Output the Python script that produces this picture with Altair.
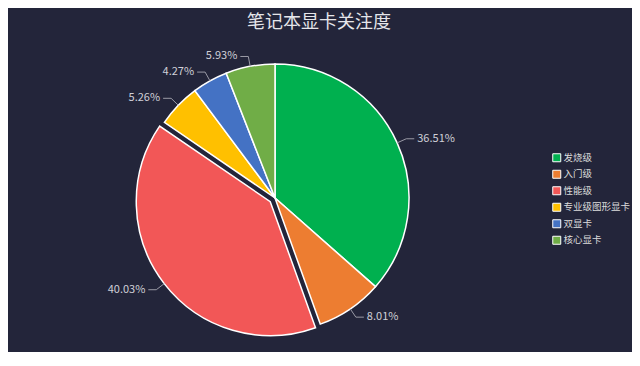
import altair as alt
import pandas as pd

# ---- data ----
categories = ["发烧级", "入门级", "性能级", "专业级图形显卡", "双显卡", "核心显卡"]
shares = [36.51, 8.01, 40.03, 5.26, 4.27, 5.93]
labels = ["36.51%", "8.01%", "40.03%", "5.26%", "4.27%", "5.93%"]
colors = ["#00b04f", "#ed7d31", "#f25757", "#ffc000", "#4472c4", "#70ad47"]
exploded = ["性能级"]
title_text = "笔记本显卡关注度"

# ---- layout constants ----
W, H = 534, 308
R = 134
EXPLODE = 6
L1, L2, GAP = 10, 8, 3
BG = "#23253a"
FONT = "Noto Sans CJK SC"

df = pd.DataFrame({
    "cat": categories,
    "share": shares,
    "label": labels,
    "idx": list(range(len(categories))),
    "off": [EXPLODE if c in exploded else 0 for c in categories],
})

base = (
    alt.Chart(df)
    .transform_joinaggregate(total="sum(share)")
    .transform_window(cum="sum(share)", sort=[{"field": "idx"}], frame=[None, 0])
    .transform_calculate(
        a0="2*PI*(datum.cum - datum.share)/datum.total",
        a1="2*PI*datum.cum/datum.total",
    )
    .transform_calculate(mid="(datum.a0 + datum.a1)/2")
    .transform_calculate(
        cx=f"{W/2} + datum.off*sin(datum.mid)",
        cy=f"{H/2} - datum.off*cos(datum.mid)",
        side="sin(datum.mid) >= 0 ? 1 : -1",
    )
    .transform_calculate(
        px0=f"datum.cx + {R}*sin(datum.mid)",
        py0=f"datum.cy - {R}*cos(datum.mid)",
        px1=f"datum.cx + {R + L1}*sin(datum.mid)",
        py1=f"datum.cy - {R + L1}*cos(datum.mid)",
    )
    .transform_calculate(
        px2=f"datum.px1 + datum.side*{L2}",
        tx=f"datum.px1 + datum.side*{L2 + GAP}",
    )
)

X = lambda f: alt.X(f, scale=None, axis=None)
Y = lambda f: alt.Y(f, scale=None, axis=None)

arcs = base.mark_arc(radius=R, stroke="white", strokeWidth=1.5).encode(
    x=X("cx:Q"),
    y=Y("cy:Q"),
    theta=alt.Theta("a0:Q", scale=None),
    theta2=alt.Theta2("a1:Q"),
    color=alt.Color(
        "cat:N",
        scale=alt.Scale(domain=categories, range=colors),
        legend=alt.Legend(
            title=None,
            orient="none",
            legendX=544,
            legendY=109,
            symbolType="square",
            symbolSize=64,
            symbolStrokeColor="white",
            symbolStrokeWidth=1,
            symbolOpacity=1,
            labelColor="#dcdcdc",
            labelFontSize=9.5,
            labelFont=FONT,
            labelOffset=2,
            rowPadding=3.5,
        ),
    ),
    tooltip=["cat:N", "label:N"],
)

seg1 = base.mark_rule(color="#9a9aa6", strokeWidth=1).encode(
    x=X("px0:Q"), y=Y("py0:Q"), x2="px1:Q", y2="py1:Q"
)
seg2 = base.mark_rule(color="#9a9aa6", strokeWidth=1).encode(
    x=X("px1:Q"), y=Y("py1:Q"), x2="px2:Q", y2="py1:Q"
)

text_kw = dict(fontSize=11, font=FONT, color="#d0d0d8", baseline="middle")
txt_r = base.transform_filter("datum.side > 0").mark_text(align="left", **text_kw).encode(
    x=X("tx:Q"), y=Y("py1:Q"), text="label:N"
)
txt_l = base.transform_filter("datum.side < 0").mark_text(align="right", **text_kw).encode(
    x=X("tx:Q"), y=Y("py1:Q"), text="label:N"
)

title = (
    alt.Chart(pd.DataFrame({"t": [title_text]}))
    .mark_text(fontSize=18, font=FONT, color="#e6e6ea", align="center", baseline="middle")
    .encode(x=alt.value(311), y=alt.value(-21), text="t:N")
)

chart = (
    alt.layer(arcs, seg1, seg2, txt_r, txt_l, title)
    .properties(
        width=W,
        height=H,
        autosize=alt.AutoSizeParams(type="none"),
        padding={"left": 0, "top": 36, "right": 90, "bottom": 0},
        background=BG,
    )
    .configure_view(stroke=None)
)

chart.save("out.html", embed_options={"renderer": "svg", "actions": False})
